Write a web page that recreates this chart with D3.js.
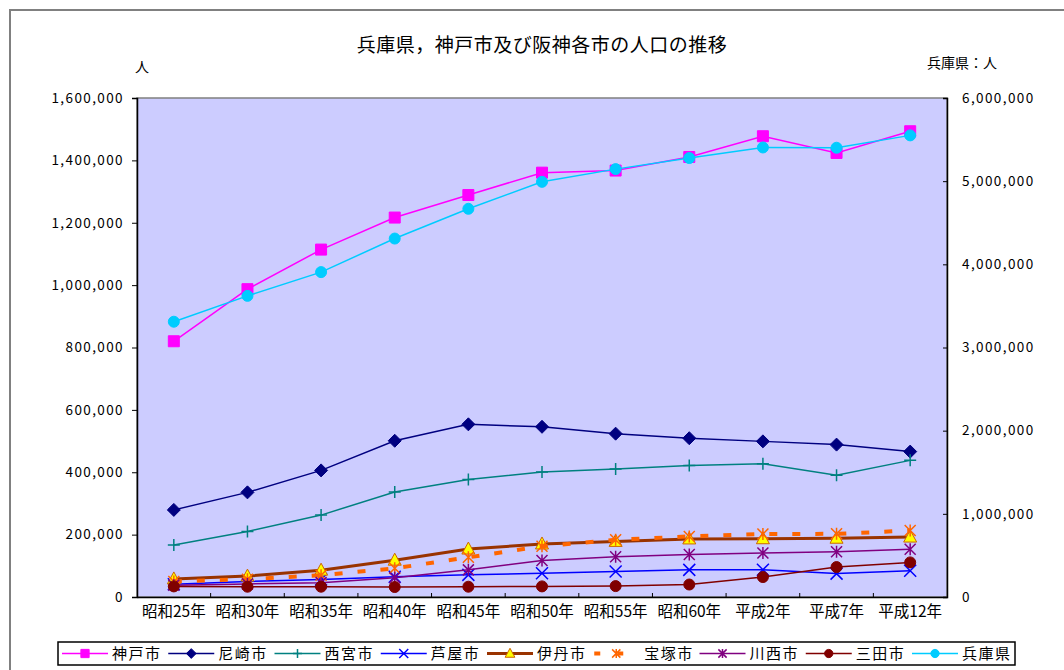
<!DOCTYPE html>
<html>
<head>
<meta charset="utf-8">
<script src="https://cdn.jsdelivr.net/npm/d3@7"></script>
<style>
  body { margin: 0; background: #fff; }
  svg text { font-family: "Noto Sans CJK JP", "Noto Sans", sans-serif; fill: #000; }
</style>
</head>
<body>
<div id="chart"></div>
<script>
// categories (x axis)
const years = ["昭和25年", "昭和30年", "昭和35年", "昭和40年", "昭和45年", "昭和50年",
               "昭和55年", "昭和60年", "平成2年", "平成7年", "平成12年"];

// city populations (left axis)
const kobe       = [820000, 987000, 1113977, 1216666, 1288937, 1360605, 1367390, 1410834, 1477410, 1423792, 1493398];
const amagasaki  = [279264, 335513, 405955, 500990, 553696, 545783, 523650, 509115, 498999, 488586, 466187];
const nishinomiya= [167000, 210000, 262608, 336873, 377043, 400622, 410329, 421267, 426909, 390389, 438105];
const ashiya     = [41000, 50000, 56000, 65000, 71000, 76000, 82000, 87000, 87500, 75000, 84000];
const itami      = [58000, 67000, 86000, 118000, 153763, 170000, 178228, 186134, 186818, 188431, 192159];
const takarazuka = [50000, 57000, 70000, 92000, 127179, 162624, 183628, 194273, 201862, 202544, 213037];
const kawanishi  = [38000, 42000, 46000, 62000, 87000, 117000, 129000, 136000, 141000, 145000, 153000];
const sanda      = [34000, 33000, 33000, 32000, 33000, 34000, 35000, 40000, 64000, 96000, 111000];
// prefecture population (right axis)
const hyogo      = [3309935, 3620947, 3906487, 4309944, 4667928, 4992140, 5144892, 5278050, 5405040, 5401877, 5550574];

// tick values
const leftTicks  = [0, 200000, 400000, 600000, 800000, 1000000, 1200000, 1400000, 1600000];
const rightTicks = [0, 1000000, 2000000, 3000000, 4000000, 5000000, 6000000];

const width = 1064, height = 670;
const plot = { left: 137, right: 947, top: 98, bottom: 597 };

const series = [
    { name: "神戸市", values: kobe, color: "#FF00FF", marker: "square", fill: "#FF00FF", width: 1.5, axis: "left" },
    { name: "尼崎市", values: amagasaki, color: "#000080", marker: "diamond", fill: "#000080", width: 1.5, axis: "left" },
    { name: "西宮市", values: nishinomiya, color: "#008080", marker: "plus", fill: "none", width: 1.5, axis: "left" },
    { name: "芦屋市", values: ashiya, color: "#0000FF", marker: "x", fill: "none", width: 1.5, axis: "left" },
    { name: "伊丹市", values: itami, color: "#993300", marker: "triangle", fill: "#FFFF00", mstroke: "#CC6600", width: 3, axis: "left" },
    { name: "宝塚市", values: takarazuka, color: "#FF6600", marker: "asterisk", fill: "none", width: 4, dash: "8,15", axis: "left" },
    { name: "川西市", values: kawanishi, color: "#800080", marker: "asterisk", fill: "none", width: 1.5, axis: "left" },
    { name: "三田市", values: sanda, color: "#800000", marker: "circle", fill: "#800000", width: 1.5, axis: "left" },
    { name: "兵庫県", values: hyogo, color: "#00CCFF", marker: "circle", fill: "#00CCFF", width: 1.5, axis: "right" }
];

// marker shapes centred at 0,0, scaled by k
const markerPath = (type, k) => {
    const p = d3.path();
    const s = v => v * k;
    switch (type) {
        case "square": p.rect(s(-5.5), s(-5.5), s(11), s(11)); break;
        case "diamond":
            p.moveTo(0, s(-6.5)); p.lineTo(s(6.5), 0); p.lineTo(0, s(6.5)); p.lineTo(s(-6.5), 0); p.closePath(); break;
        case "plus":
            p.moveTo(s(-6), 0); p.lineTo(s(6), 0); p.moveTo(0, s(-6)); p.lineTo(0, s(6)); break;
        case "x":
            p.moveTo(s(-6), s(-6)); p.lineTo(s(6), s(6)); p.moveTo(s(-6), s(6)); p.lineTo(s(6), s(-6)); break;
        case "triangle":
            p.moveTo(0, s(-7)); p.lineTo(s(6.5), s(5)); p.lineTo(s(-6.5), s(5)); p.closePath(); break;
        case "asterisk":
            p.moveTo(0, s(-6)); p.lineTo(0, s(6));
            p.moveTo(s(-5.5), s(-5.5)); p.lineTo(s(5.5), s(5.5));
            p.moveTo(s(-5.5), s(5.5)); p.lineTo(s(5.5), s(-5.5)); break;
        case "circle": p.arc(0, 0, s(5.5), 0, 2 * Math.PI); break;
    }
    return p.toString();
};

const svg = d3.select("#chart").append("svg")
    .attr("width", width)
    .attr("height", height);

// outer chart frame
svg.append("rect")
    .attr("x", 10).attr("y", 10)
    .attr("width", width).attr("height", height)
    .attr("fill", "#fff")
    .attr("stroke", "#808080")
    .attr("stroke-width", 2);

// scales
const x = d3.scaleBand().domain(years).range([plot.left, plot.right]).padding(0);
const yLeft = d3.scaleLinear().domain([0, 1600000]).range([plot.bottom, plot.top]);
const yRight = d3.scaleLinear().domain([0, 6000000]).range([plot.bottom, plot.top]);
const fmt = d3.format(",");

// plot area
svg.append("rect")
    .attr("x", plot.left).attr("y", plot.top)
    .attr("width", plot.right - plot.left).attr("height", plot.bottom - plot.top)
    .attr("fill", "#CCCCFF")
    .attr("stroke", "#808080")
    .attr("stroke-width", 1.5);

// title and unit labels
svg.append("text")
    .attr("x", (plot.left + plot.right) / 2).attr("y", 52)
    .attr("text-anchor", "middle")
    .style("font-size", "19px")
    .style("letter-spacing", "0.5px")
    .text("兵庫県，神戸市及び阪神各市の人口の推移");

svg.append("text")
    .attr("x", 142).attr("y", 72)
    .attr("text-anchor", "middle")
    .style("font-size", "14px")
    .text("人");

svg.append("text")
    .attr("x", 997).attr("y", 68)
    .attr("text-anchor", "end")
    .style("font-size", "14px")
    .text("兵庫県：人");

// left axis
const leftAxis = svg.append("g")
    .attr("transform", `translate(${plot.left},0)`)
    .call(d3.axisLeft(yLeft).tickValues(leftTicks).tickFormat(fmt).tickSize(5).tickPadding(8));

// right axis (ticks inside)
const rightAxis = svg.append("g")
    .attr("transform", `translate(${plot.right},0)`)
    .call(d3.axisRight(yRight).tickValues(rightTicks).tickFormat(fmt).tickSize(-4).tickPadding(15));

[leftAxis, rightAxis].forEach(a => {
    a.select(".domain").attr("stroke", "#000").attr("stroke-width", 1.5);
    a.selectAll("line").attr("stroke", "#000");
    a.selectAll("text")
        .style("font-size", "13.5px")
        .style("letter-spacing", "1.4px");
});

// bottom axis: labels at band centres, ticks at band boundaries (inside)
const bottomAxis = svg.append("g")
    .attr("transform", `translate(0,${plot.bottom})`)
    .call(d3.axisBottom(x).tickSize(0).tickPadding(9));
bottomAxis.select(".domain").attr("stroke", "#000").attr("stroke-width", 1.5);
bottomAxis.selectAll("text").style("font-size", "15.5px");

svg.append("g")
    .selectAll("line")
    .data(years.slice(1))
    .join("line")
    .attr("x1", d => x(d)).attr("x2", d => x(d))
    .attr("y1", plot.bottom).attr("y2", plot.bottom - 4)
    .attr("stroke", "#000");

// lines and markers
const cx = (d, i) => x(years[i]) + x.bandwidth() / 2;

series.forEach(s => {
    const yScale = s.axis === "left" ? yLeft : yRight;
    const line = d3.line()
        .x((d, i) => cx(d, i))
        .y(d => yScale(d));

    svg.append("path")
        .datum(s.values)
        .attr("fill", "none")
        .attr("stroke", s.color)
        .attr("stroke-width", s.width)
        .attr("stroke-dasharray", s.dash || null)
        .attr("d", line);

    svg.append("g")
        .selectAll("path")
        .data(s.values)
        .join("path")
        .attr("transform", (d, i) => `translate(${cx(d, i)},${yScale(d)})`)
        .attr("d", markerPath(s.marker, 1))
        .attr("fill", s.fill)
        .attr("stroke", s.mstroke || s.color)
        .attr("stroke-width", s.fill === "none" ? 1.5 : 1);
});

// legend
const legendBox = { x: 58, y: 642, w: 957, h: 23 };
const legend = svg.append("g");

legend.append("rect")
    .attr("x", legendBox.x).attr("y", legendBox.y)
    .attr("width", legendBox.w).attr("height", legendBox.h)
    .attr("fill", "#fff")
    .attr("stroke", "#000")
    .attr("stroke-width", 1.5);

const legendStep = 106.25;
const midY = legendBox.y + legendBox.h / 2;

series.forEach((s, i) => {
    const x0 = 62 + i * legendStep;
    const g = legend.append("g");

    g.append("line")
        .attr("x1", x0).attr("x2", x0 + 46)
        .attr("y1", midY).attr("y2", midY)
        .attr("stroke", s.color)
        .attr("stroke-width", s.dash ? 4 : s.width)
        .attr("stroke-dasharray", s.dash ? "6,17" : null)
        .attr("stroke-dashoffset", s.dash ? -1 : null);

    g.append("path")
        .attr("transform", `translate(${x0 + 23},${midY})`)
        .attr("d", markerPath(s.marker, 0.75))
        .attr("fill", s.fill)
        .attr("stroke", s.mstroke || s.color)
        .attr("stroke-width", s.fill === "none" ? 1.5 : 1);

    g.append("text")
        .attr("x", x0 + (s.dash ? 51 : 50))
        .attr("y", midY)
        .attr("dy", "0.36em")
        .style("font-size", "15px")
        .style("letter-spacing", "1.5px")
        .text(s.name);
});
</script>
</body>
</html>
